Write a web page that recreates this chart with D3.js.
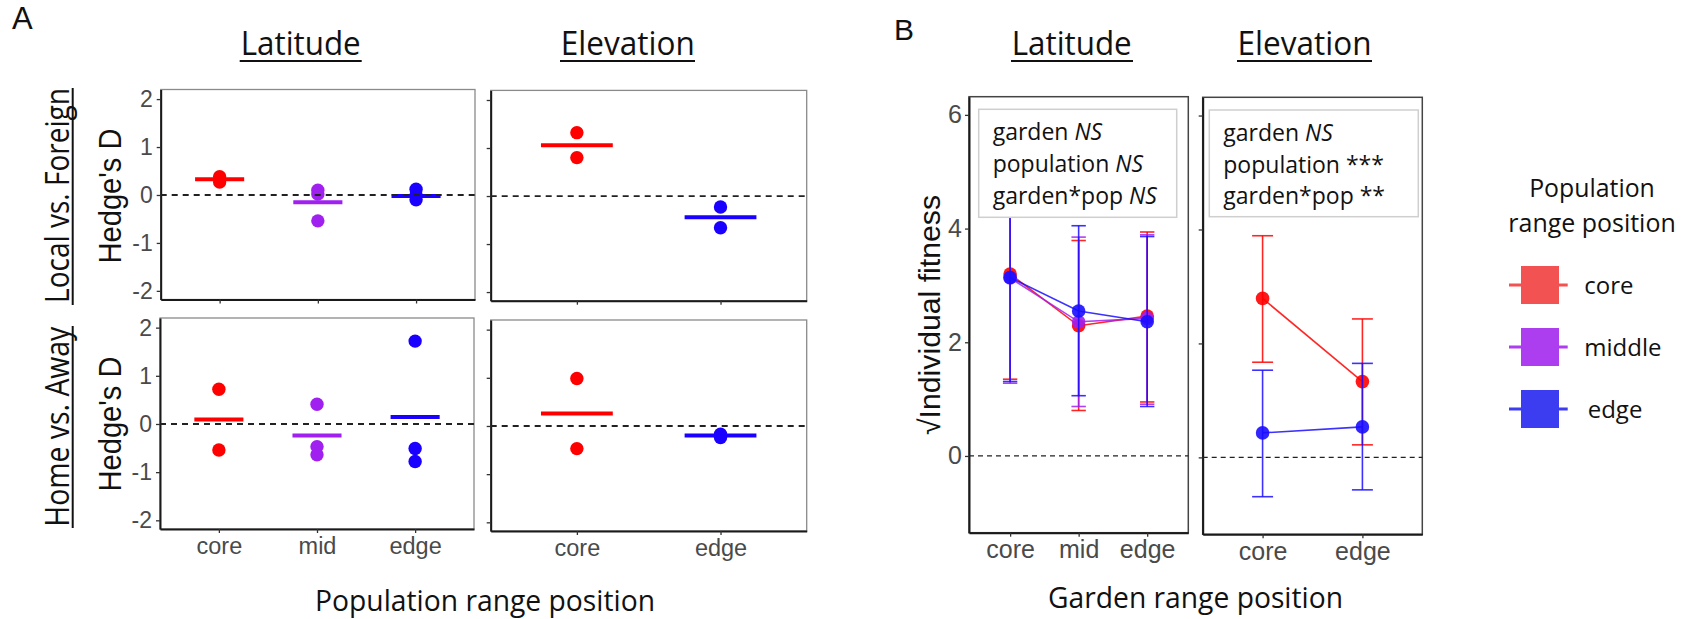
<!DOCTYPE html>
<html>
<head>
<meta charset="utf-8">
<script src="https://cdn.jsdelivr.net/npm/d3@7"></script>
<style>
  body { margin: 0; background: #fff; }
  text { font-family: "Liberation Sans", Arial, sans-serif; }
  .cal { font-family: "Open Sans", "Noto Sans", sans-serif; }
</style>
</head>
<body>
<script>
// ---- data ----
const latCats = ["core", "mid", "edge"];
const elevCats = ["core", "edge"];
const hedgeTicks = [-2, -1, 0, 1, 2];
const fitTicks = [0, 2, 4, 6];

// A: Hedge's D, one array of replicate values per category
const lvfLatPoints = [[0.38, 0.27], [0.1, 0.02, -0.54], [0.12, 0.0, -0.1]];
const lvfLatMeans = [0.33, -0.15, -0.02];
const lvfElevPoints = [[1.32, 0.8], [-0.23, -0.66]];
const lvfElevMeans = [1.06, -0.44];
const hvaLatPoints = [[0.72, -0.54], [0.41, -0.47, -0.64], [1.72, -0.51, -0.78]];
const hvaLatMeans = [0.095, -0.24, 0.145];
const hvaElevPoints = [[0.985, -0.47], [-0.17, -0.24]];
const hvaElevMeans = [0.26, -0.2];

// B: sqrt individual fitness by garden, one series per population range position
const popNames = ["core", "middle", "edge"];
const latFitCore = [3.2, 2.29, 2.46];
const latFitCoreLo = [1.35, 0.8, 0.95];
const latFitCoreHi = [4.98, 3.79, 3.94];
const latFitMid = [3.13, 2.36, 2.42];
const latFitMidLo = [1.28, 0.87, 0.91];
const latFitMidHi = [5.0, 3.85, 3.89];
const latFitEdge = [3.14, 2.55, 2.36];
const latFitEdgeLo = [1.31, 1.06, 0.87];
const latFitEdgeHi = [4.96, 4.05, 3.86];
const elevFitCore = [2.79, 1.33];
const elevFitCoreLo = [1.67, 0.22];
const elevFitCoreHi = [3.89, 2.43];
const elevFitEdge = [0.43, 0.535];
const elevFitEdgeLo = [-0.69, -0.57];
const elevFitEdgeHi = [1.53, 1.65];

const latStats = [["garden ", "NS"], ["population ", "NS"], ["garden*pop ", "NS"]];
const elevStats = [["garden ", "NS"], ["population ", "***"], ["garden*pop ", "**"]];

// ---- styling ----
const colA = {core: "#ff0000", mid: "#a020f0", edge: "#1a00ff"};
const colB = {core: "#ff0000", middle: "#a020f0", edge: "#1a0dff"};
const legendCol = {core: "#f35252", middle: "#ad3eef", edge: "#3c3cf0"};

const svg = d3.select("body").append("svg")
    .attr("width", 1690)
    .attr("height", 619);

svg.append("rect").attr("width", 1690).attr("height", 619).attr("fill", "#fff");

function styleAxis(ax, labelSize) {
    ax.select(".domain").attr("stroke", "#1a1a1a").attr("stroke-width", 2);
    ax.selectAll(".tick line").attr("stroke", "#333").attr("stroke-width", 1.3);
    ax.selectAll(".tick text")
        .style("font-family", "'Liberation Sans', Arial, sans-serif")
        .style("font-size", labelSize + "px")
        .attr("fill", "#4a4a4a");
}

// Panel A: Hedge's D dot plot
function drawHedge(frame, cats, points, means, showY, showX) {
    let g = svg.append("g");
    let x = d3.scalePoint().domain(cats).range([frame.x0, frame.x1]).padding(0.6);
    let y = d3.scaleLinear().domain([-2.18, 2.2]).range([frame.y1, frame.y0]);

    g.append("rect")
        .attr("x", frame.x0).attr("y", frame.y0)
        .attr("width", frame.x1 - frame.x0).attr("height", frame.y1 - frame.y0)
        .attr("fill", "none").attr("stroke", "#8a8a8a").attr("stroke-width", 1.3);

    let yAx = g.append("g")
        .attr("transform", `translate(${frame.x0},0)`)
        .call(d3.axisLeft(y).tickValues(hedgeTicks).tickSize(4).tickSizeOuter(0).tickPadding(4)
            .tickFormat(showY ? (d => String(d)) : ""));
    styleAxis(yAx, 23);

    let xAx = g.append("g")
        .attr("transform", `translate(0,${frame.y1})`)
        .call(d3.axisBottom(x).tickSize(4).tickSizeOuter(0).tickPadding(4)
            .tickFormat(showX ? (d => d) : ""));
    styleAxis(xAx, 23.5);

    let half = x.step() * 0.25;
    cats.forEach(function(c, i) {
        g.selectAll(null).data(points[i]).enter()
            .append("circle")
            .attr("cx", x(c))
            .attr("cy", d => y(d))
            .attr("r", 6.7)
            .attr("fill", colA[c]);
        g.append("line")
            .attr("x1", x(c) - half).attr("x2", x(c) + half)
            .attr("y1", y(means[i])).attr("y2", y(means[i]))
            .attr("stroke", colA[c]).attr("stroke-width", 4);
    });

    g.append("line")
        .attr("x1", frame.x0).attr("x2", frame.x1)
        .attr("y1", y(0)).attr("y2", y(0))
        .attr("stroke", "#222").attr("stroke-width", 1.8)
        .attr("stroke-dasharray", "6,5");
}

// Panel B: fitness interaction plot
function drawFitness(frame, cats, series, showY) {
    let g = svg.append("g");
    let x = d3.scalePoint().domain(cats).range([frame.x0, frame.x1]).padding(0.6);
    let y = d3.scaleLinear().domain([-1.35, 6.32]).range([frame.y1, frame.y0]);

    g.append("rect")
        .attr("x", frame.x0).attr("y", frame.y0)
        .attr("width", frame.x1 - frame.x0).attr("height", frame.y1 - frame.y0)
        .attr("fill", "none").attr("stroke", "#444").attr("stroke-width", 1.5);

    let yAx = g.append("g")
        .attr("transform", `translate(${frame.x0},0)`)
        .call(d3.axisLeft(y).tickValues(fitTicks).tickSize(4).tickSizeOuter(0).tickPadding(3)
            .tickFormat(showY ? (d => String(d)) : ""));
    styleAxis(yAx, 25);

    let xAx = g.append("g")
        .attr("transform", `translate(0,${frame.y1})`)
        .call(d3.axisBottom(x).tickSize(4).tickSizeOuter(0).tickPadding(4));
    styleAxis(xAx, 25);

    g.append("line")
        .attr("x1", frame.x0).attr("x2", frame.x1)
        .attr("y1", y(0)).attr("y2", y(0))
        .attr("stroke", "#222").attr("stroke-width", 1.3)
        .attr("stroke-dasharray", "5,4");

    let cap = x.step() * 0.105;
    series.forEach(function(s) {
        let rows = cats.map((c, i) => ({c: c, m: s.mean[i], lo: s.lo[i], hi: s.hi[i]}));
        let sg = g.append("g").attr("stroke", s.color).attr("fill", s.color);

        sg.selectAll(".bar").data(rows).enter().append("line")
            .attr("x1", d => x(d.c)).attr("x2", d => x(d.c))
            .attr("y1", d => y(d.lo)).attr("y2", d => y(d.hi))
            .attr("stroke-width", 1.6).attr("stroke-opacity", 0.85);
        ["lo", "hi"].forEach(function(k) {
            sg.selectAll(null).data(rows).enter().append("line")
                .attr("x1", d => x(d.c) - cap).attr("x2", d => x(d.c) + cap)
                .attr("y1", d => y(d[k])).attr("y2", d => y(d[k]))
                .attr("stroke-width", 1.6).attr("stroke-opacity", 0.85);
        });

        sg.append("path")
            .datum(rows)
            .attr("fill", "none")
            .attr("stroke-width", 1.6)
            .attr("stroke-opacity", 0.85)
            .attr("d", d3.line().x(d => x(d.c)).y(d => y(d.m)));

        sg.selectAll("circle").data(rows).enter().append("circle")
            .attr("cx", d => x(d.c)).attr("cy", d => y(d.m))
            .attr("r", 6.8).attr("stroke", "none").attr("fill-opacity", 0.9);
    });
}

function statsBox(box, lines) {
    svg.append("rect")
        .attr("x", box.x).attr("y", box.y).attr("width", box.w).attr("height", box.h)
        .attr("fill", "#fff").attr("stroke", "#cfcfcf").attr("stroke-width", 1.5);
    lines.forEach(function(l, i) {
        let t = svg.append("text").attr("class", "cal")
            .attr("x", box.x + 14).attr("y", box.y + 31 + i * 31.6)
            .style("font-size", "23px").attr("fill", "#111");
        t.append("tspan").text(l[0]);
        t.append("tspan").style("font-style", l[1] === "NS" ? "italic" : "normal").text(l[1]);
    });
}

function label(txt, x, y, size, len, rot, cls) {
    let t = svg.append("text")
        .attr("transform", `translate(${x},${y})` + (rot ? " rotate(-90)" : ""))
        .attr("text-anchor", "middle")
        .style("font-size", size + "px")
        .attr("fill", "#111")
        .text(txt);
    if (cls) t.attr("class", cls);
    if (len) t.attr("textLength", len).attr("lengthAdjust", "spacingAndGlyphs");
    return t;
}

function uline(x1, y1, x2, y2) {
    svg.append("line").attr("x1", x1).attr("y1", y1).attr("x2", x2).attr("y2", y2)
        .attr("stroke", "#111").attr("stroke-width", 2);
}

// ---- panel A ----
drawHedge({x0: 160.7, x1: 475, y0: 89.5, y1: 299.5}, latCats, lvfLatPoints, lvfLatMeans, true, false);
drawHedge({x0: 490.7, x1: 806.7, y0: 90.4, y1: 300.7}, elevCats, lvfElevPoints, lvfElevMeans, false, false);
drawHedge({x0: 160, x1: 474, y0: 318, y1: 529}, latCats, hvaLatPoints, hvaLatMeans, true, true);
drawHedge({x0: 490.7, x1: 806.7, y0: 320, y1: 531}, elevCats, hvaElevPoints, hvaElevMeans, false, true);

svg.append("text").attr("x", 12).attr("y", 29).style("font-size", "31px").attr("fill", "#111").text("A");
label("Latitude", 300.7, 55, 32, 120, false, "cal");
uline(239.7, 61, 361.7, 61);
label("Elevation", 627.8, 55, 32, 134, false, "cal");
uline(560, 61, 695, 61);
label("Local vs. Foreign", 69, 195.5, 32, 215, true, "cal");
uline(72.7, 88, 72.7, 305);
label("Home vs. Away", 69, 426.7, 32, 200, true, "cal");
uline(72.7, 326, 72.7, 528);
label("Hedge's D", 121, 196, 31, 135, true);
label("Hedge's D", 121, 424, 31, 135, true);
label("Population range position", 485, 611, 29, 340, false, "cal");

// ---- panel B ----
drawFitness({x0: 969, x1: 1188.3, y0: 96.7, y1: 532.7}, latCats, [
    {color: colB.core, mean: latFitCore, lo: latFitCoreLo, hi: latFitCoreHi},
    {color: colB.middle, mean: latFitMid, lo: latFitMidLo, hi: latFitMidHi},
    {color: colB.edge, mean: latFitEdge, lo: latFitEdgeLo, hi: latFitEdgeHi}
], true);
drawFitness({x0: 1202.7, x1: 1422.3, y0: 97.3, y1: 534.3}, elevCats, [
    {color: colB.core, mean: elevFitCore, lo: elevFitCoreLo, hi: elevFitCoreHi},
    {color: colB.edge, mean: elevFitEdge, lo: elevFitEdgeLo, hi: elevFitEdgeHi}
], false);

statsBox({x: 978.7, y: 109.3, w: 198, h: 108}, latStats);
statsBox({x: 1209.3, y: 110, w: 209, h: 106.7}, elevStats);

svg.append("text").attr("x", 894).attr("y", 40).style("font-size", "30px").attr("fill", "#111").text("B");
label("Latitude", 1071.7, 55, 32, 120, false, "cal");
uline(1011, 61, 1133, 61);
label("Elevation", 1304.5, 55, 32, 134, false, "cal");
uline(1237, 61, 1372, 61);
label("\u221AIndividual fitness", 940, 315, 30, 240, true);
label("Garden range position", 1195.5, 608, 29, 295, false, "cal");

// ---- legend ----
label("Population", 1592, 196.7, 25, 125.7, false, "cal");
label("range position", 1592, 231.7, 25, 167.4, false, "cal");
let legY = d3.scalePoint().domain(popNames).range([285, 409]);
let leg = svg.append("g");
popNames.forEach(function(p) {
    leg.append("line")
        .attr("x1", 1509).attr("x2", 1567.7)
        .attr("y1", legY(p)).attr("y2", legY(p))
        .attr("stroke", legendCol[p]).attr("stroke-width", 3);
    leg.append("rect")
        .attr("x", 1521).attr("y", legY(p) - 19)
        .attr("width", 38).attr("height", 38)
        .attr("fill", legendCol[p]);
    leg.append("text").attr("class", "cal")
        .attr("x", p === "edge" ? 1587.7 : 1584.3)
        .attr("y", legY(p) + 8.5)
        .style("font-size", "24px")
        .attr("fill", "#111")
        .text(p);
});
</script>
</body>
</html>
